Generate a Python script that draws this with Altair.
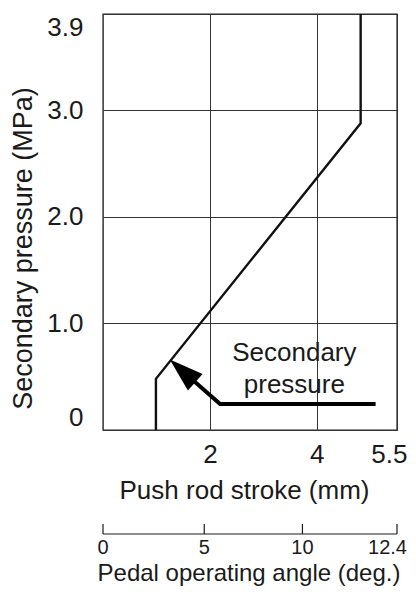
import altair as alt
import pandas as pd

# ---- data ----
# main curve: push rod stroke (mm) vs secondary pressure (MPa)
stroke_mm = [0.99, 0.99, 4.82, 4.82]
pressure_mpa = [0.0, 0.48, 2.875, 3.9]

# axis tick values
x_ticks = [2, 4, 5.5]
y_ticks = [0, 1.0, 2.0, 3.0, 3.9]

# annotation text and arrow (in data units)
label_lines = ["Secondary", "pressure"]
label_x = [3.58, 3.58]
label_y = [0.65, 0.344]
arrow_x = [5.1, 2.19, 1.53]
arrow_y = [0.244, 0.244, 0.535]
arrow_tip_x = [1.25]
arrow_tip_y = [0.66]

# secondary (pedal angle) scale: labels and matching stroke positions
pedal_angle_labels = ["0", "5", "10", "12.4"]
pedal_angle_stroke = [0.0, 1.894, 3.731, 5.5]

FONT = "Liberation Sans"
INK = "#1a1a1a"
W, H = 294, 416

xscale = alt.Scale(domain=[0, 5.5], nice=False, zero=False)
yscale = alt.Scale(domain=[0, 3.9], nice=False, zero=False)

curve_df = pd.DataFrame({"s": stroke_mm, "p": pressure_mpa, "o": list(range(len(stroke_mm)))})
curve = alt.Chart(curve_df).mark_line(color="#111111", strokeWidth=2.4, strokeJoin="miter").encode(
    x=alt.X("s:Q", scale=xscale, axis=alt.Axis(
        values=x_ticks, labelExpr="format(datum.value, '~g')", title="Push rod stroke (mm)",
        grid=True, ticks=False, domain=False, labelPadding=11, labelFontSize=26,
        labelFlush=True, labelFlushOffset=10,
        titleFontSize=26, titleX=141, titleY=68, titleBaseline="alphabetic")),
    y=alt.Y("p:Q", scale=yscale, axis=alt.Axis(
        values=y_ticks, labelExpr="datum.value == 0 ? '0' : format(datum.value, '.1f')",
        labelFlush=True, title="Secondary pressure (MPa)", grid=True, ticks=False,
        domain=False, labelPadding=20, labelFontSize=26, titleFontSize=27,
        titleX=-72, titleY=234, titleBaseline="alphabetic")),
    order="o:O",
)

text_df = pd.DataFrame({"s": label_x, "p": label_y, "t": label_lines})
labels = alt.Chart(text_df).mark_text(font=FONT, fontSize=26, color=INK, align="center",
                                      baseline="alphabetic").encode(
    x=alt.X("s:Q", scale=xscale), y=alt.Y("p:Q", scale=yscale), text="t:N")

arrow_df = pd.DataFrame({"s": arrow_x, "p": arrow_y, "o": list(range(len(arrow_x)))})
arrow_line = alt.Chart(arrow_df).mark_line(color="black", strokeWidth=4, strokeJoin="miter").encode(
    x=alt.X("s:Q", scale=xscale), y=alt.Y("p:Q", scale=yscale), order="o:O")

tip_df = pd.DataFrame({"s": arrow_tip_x, "p": arrow_tip_y})
arrow_head = alt.Chart(tip_df).mark_point(
    shape="M0,0L0.65,2L-0.65,2Z", size=1156, angle=311.6, filled=True,
    color="black", opacity=1, strokeWidth=0).encode(
    x=alt.X("s:Q", scale=xscale), y=alt.Y("p:Q", scale=yscale))

# secondary axis drawn with marks
sec_df = pd.DataFrame({"s": pedal_angle_stroke, "t": pedal_angle_labels})
sec_inner = sec_df.iloc[:-1]
sec_last = sec_df.iloc[-1:]
sec_base_df = pd.DataFrame({"s": [pedal_angle_stroke[0]], "s2": [pedal_angle_stroke[-1]]})
sec_base = alt.Chart(sec_base_df).mark_rule(color=INK, strokeWidth=1.2).encode(
    x=alt.X("s:Q", scale=xscale), x2="s2:Q", y=alt.value(520))
sec_ticks = alt.Chart(sec_df).mark_rule(color=INK, strokeWidth=1.2).encode(
    x=alt.X("s:Q", scale=xscale), y=alt.value(510), y2=alt.value(520))
sec_labels = alt.Chart(sec_inner).mark_text(font=FONT, fontSize=20, color=INK, align="center",
                                            baseline="alphabetic").encode(
    x=alt.X("s:Q", scale=xscale), y=alt.value(540), text="t:N")
sec_label_end = alt.Chart(sec_last).mark_text(font=FONT, fontSize=20, color=INK, align="right",
                                              baseline="alphabetic", dx=10).encode(
    x=alt.X("s:Q", scale=xscale), y=alt.value(540), text="t:N")
sec_title = alt.Chart(pd.DataFrame({"t": ["Pedal operating angle (deg.)"]})).mark_text(
    font=FONT, fontSize=24, color=INK, align="center", baseline="alphabetic").encode(
    x=alt.value(146), y=alt.value(567), text="t:N")

chart = alt.layer(curve, arrow_line, arrow_head, labels, sec_base, sec_ticks, sec_labels,
                  sec_label_end, sec_title).properties(
    width=W, height=H,
    autosize=alt.AutoSizeParams(type="none"),
    padding={"left": 95, "top": 6, "right": 11, "bottom": 156},
    background="white",
).configure_view(stroke="#222222", strokeWidth=1.4).configure_axis(
    labelFont=FONT, titleFont=FONT, labelColor=INK, titleColor=INK,
    titleFontWeight="normal", gridColor="#333333", gridOpacity=1, gridWidth=1,
)

chart.save("out.html", embed_options={"renderer": "svg", "actions": False})
